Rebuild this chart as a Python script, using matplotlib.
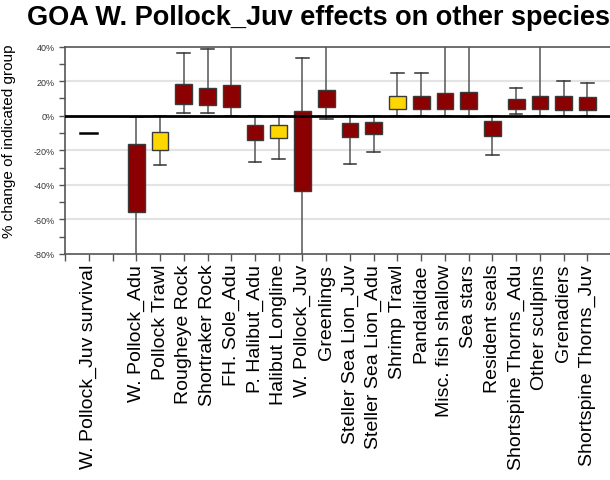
import numpy as np
import matplotlib.pyplot as plt
from matplotlib.patches import Rectangle

plt.rcParams['font.family'] = ['Liberation Sans', 'DejaVu Sans']

title = "GOA W. Pollock_Juv effects on other species"

groups = ["W. Pollock_Adu", "Pollock Trawl", "Rougheye Rock", "Shortraker Rock",
          "FH. Sole_Adu", "P. Halibut_Adu", "Halibut Longline", "W. Pollock_Juv",
          "Greenlings", "Steller Sea Lion_Juv", "Steller Sea Lion_Adu", "Shrimp Trawl",
          "Pandalidae", "Misc. fish shallow", "Sea stars", "Resident seals",
          "Shortspine Thorns_Adu", "Other sculpins", "Grenadiers", "Shortspine Thorns_Juv"]
fleets = ["Pollock Trawl", "Halibut Longline", "Shrimp Trawl"]

# percent change: inner box and outer whisker range
box_low = [-55.8, -19.6, 6.9, 6.3, 5.0, -14.0, -12.9, -43.5, 5.0, -12.3, -10.6,
           3.8, 3.8, 3.8, 3.8, -11.7, 3.8, 3.8, 3.3, 3.3]
box_high = [-16.5, -9.4, 18.1, 16.3, 17.5, -5.2, -5.2, 2.7, 14.6, -4.4, -3.8,
            11.7, 11.7, 12.9, 14.0, -3.3, 9.8, 11.7, 11.2, 10.6]
whisk_low = [-110, -28.8, 1.5, 1.5, 0.0, -26.7, -24.8, -110, -1.9, -27.9, -20.8,
             0.0, 0.0, 0.0, -1.0, -22.5, 0.8, 0.0, 0.0, 0.0]
whisk_high = [-0.8, 0.0, 36.2, 38.5, 60, 0.0, 0.0, 33.7, 60, 0.0, 0.0,
              24.8, 24.8, 60, 60, 0.0, 16.3, 60, 20.0, 18.8]

survival_label = "W. Pollock_Juv survival"
survival_change = -10.0

fig = plt.figure(figsize=(6.10, 4.81), dpi=100)
ax = fig.add_axes([0.1066, 0.47, 0.8934, 0.431])

xs = np.arange(2, 2 + len(groups))
box_w = 0.7
cap_w = 0.53

for x, bl, bh, wl, wh, name in zip(xs, box_low, box_high, whisk_low, whisk_high, groups):
    ax.plot([x, x], [wl, wh], color='#555555', lw=1.1, zorder=2)
    ax.plot([x - cap_w / 2, x + cap_w / 2], [wl, wl], color='#333333', lw=1.1, zorder=2)
    ax.plot([x - cap_w / 2, x + cap_w / 2], [wh, wh], color='#333333', lw=1.1, zorder=2)
    face = '#FFD700' if name in fleets else '#8B0000'
    ax.add_patch(Rectangle((x - box_w / 2, bl), box_w, bh - bl, facecolor=face,
                           edgecolor='#3a3a3a', lw=1.0, zorder=3))

ax.plot([-box_w / 2, box_w / 2], [survival_change, survival_change],
        color='black', lw=1.8, zorder=3)

ax.axhline(0, color='black', lw=2, zorder=5)
for g in [20, -20, -40, -60]:
    ax.axhline(g, color='#e3e3e3', lw=1.5, zorder=1)

ax.set_xlim(-1, 21.95)
ax.set_ylim(-80, 40)
ax.set_yticks(np.arange(-80, 41, 20))
ax.set_yticklabels([f"{v}%" for v in range(-80, 41, 20)], fontsize=6.5, color='#333333')
ax.set_yticks(np.arange(-70, 40, 20), minor=True)
ax.tick_params(axis='y', which='both', direction='out', length=4, color='#555555', width=1)

xticks = np.arange(-1, 22)
labels = ['' for _ in xticks]
labels[1] = survival_label
for x, name in zip(xs, groups):
    labels[x + 1] = name
ax.set_xticks(xticks)
ax.set_xticklabels(labels, rotation=90, fontsize=14)
ax.tick_params(axis='x', direction='out', length=5, color='#555555', width=1, pad=2)

for side in ['left', 'bottom', 'top']:
    ax.spines[side].set_color('#555555')
    ax.spines[side].set_linewidth(1.2)
ax.spines['right'].set_visible(False)

ax.set_ylabel("% change of indicated group", fontsize=11)
ax.yaxis.set_label_coords(-0.09, 0.55)
fig.text(0.522, 0.962, title, ha='center', va='center', fontsize=19.5, fontweight='bold')

fig.savefig("out.png", dpi=100)
